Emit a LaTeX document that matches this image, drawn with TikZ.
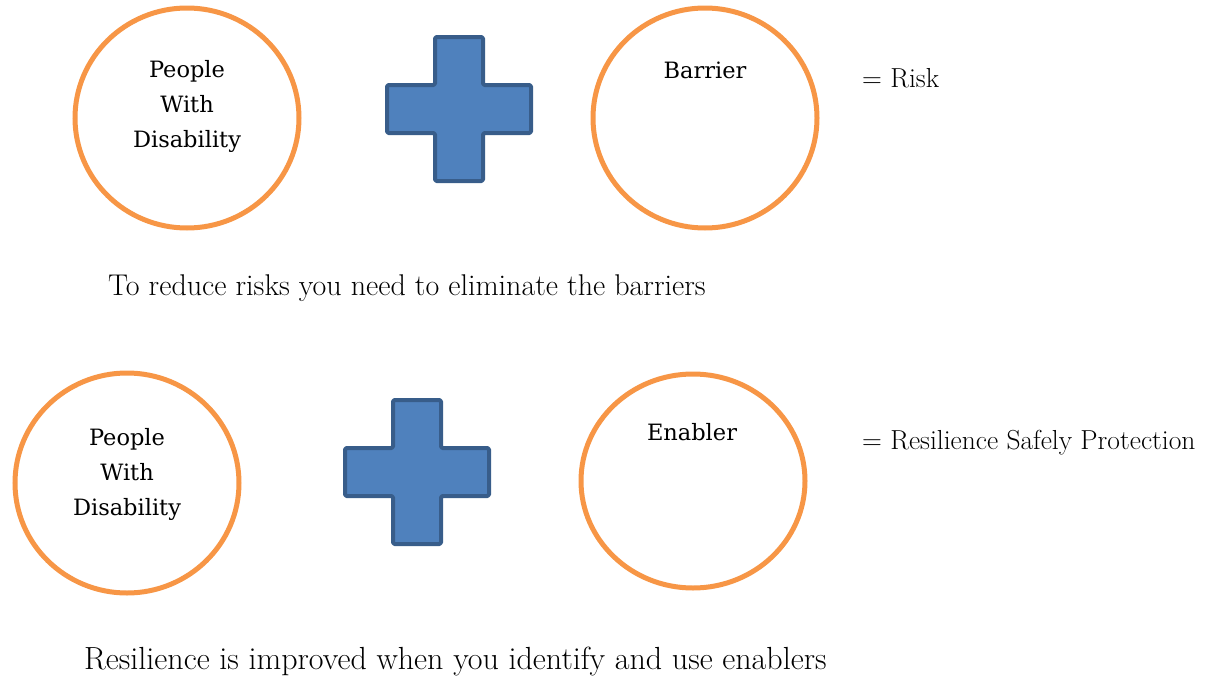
\documentclass[tikz,border=0pt]{standalone}
\usepackage{fontspec}
\newfontfamily\ringfont{DejaVu Serif}
\usetikzlibrary{shapes.geometric}
\definecolor{ringorange}{HTML}{F79646}
\definecolor{plusfill}{HTML}{4F81BD}
\definecolor{plusline}{HTML}{385D8A}
\tikzset{
  ring/.style={ellipse, draw=ringorange, line width=5pt, fill=white,
    minimum width=#1, minimum height=220pt, inner sep=0pt},
  ring/.default=222pt,
  ringtext/.style={align=center, font=\ringfont\fontsize{22.5}{35}\selectfont},
  plusshape/.style={fill=plusfill, draw=plusline, line width=4pt, rounded corners=1.5pt, line join=round},
  eqtext/.style={anchor=base west, inner sep=0pt, font=\fontsize{27.5}{34}\selectfont},
  caption/.style={anchor=base west, inner sep=0pt, font=\fontsize{#1}{37}\selectfont},
  caption/.default=30
}
% plus sign centred at (#1,#2), arm half width #3
\newcommand{\plussign}[3]{%
  \draw[plusshape] (#1-#3,#2-3*#3) -- (#1+#3,#2-3*#3) -- (#1+#3,#2-#3) -- (#1+3*#3,#2-#3)
    -- (#1+3*#3,#2+#3) -- (#1+#3,#2+#3) -- (#1+#3,#2+3*#3) -- (#1-#3,#2+3*#3)
    -- (#1-#3,#2+#3) -- (#1-3*#3,#2+#3) -- (#1-3*#3,#2-#3) -- (#1-#3,#2-#3) -- cycle;}
\begin{document}
\begin{tikzpicture}[x=1pt,y=-1pt]
\useasboundingbox (0,0) rectangle (1224,675);

% first equation: people + barrier = risk
\node[ring=224pt] (pwd1) at (187,118) {};
\node[ringtext] (pwd1t) at (187,106) {People\\With\\Disability};
\plussign{459}{109}{24}
\node[ring=224pt] (barrier) at (705,118) {};
\node[ringtext] (barriert) at (705,70) {Barrier};
\node[eqtext] (risk) at (862,87) {= Risk};
\node[caption=30] (cap1) at (108,295) {To reduce risks you need to eliminate the barriers};

% second equation: people + enabler = resilience
\node[ring=224pt] (pwd2) at (127,483) {};
\node[ringtext] (pwd2t) at (127,474) {People\\With\\Disability};
\plussign{417}{472}{24}
\node[ring=224pt, minimum height=214pt] (enabler) at (693,481) {};
\node[ringtext] (enablert) at (692,432) {Enabler};
\node[eqtext] (resil) at (862,449) {= Resilience Safely Protection};
\node[caption=32] (cap2) at (84,669) {Resilience is improved when you identify and use enablers};
\end{tikzpicture}
\end{document}
